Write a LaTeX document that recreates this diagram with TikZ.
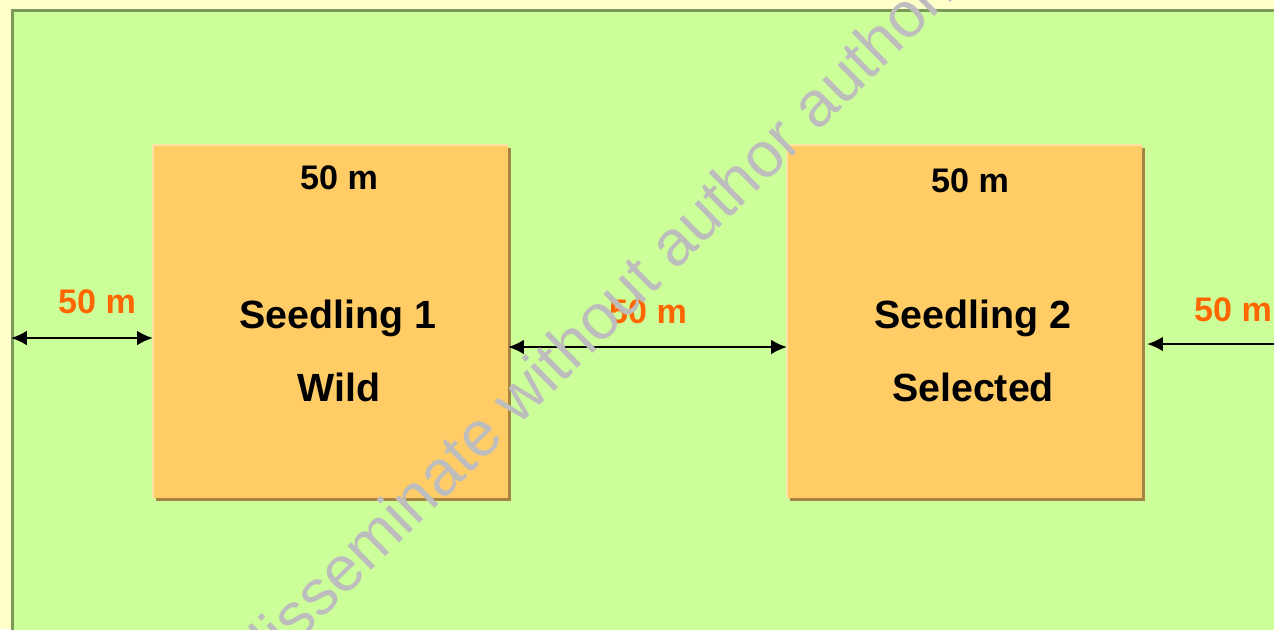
\documentclass[tikz,border=0pt]{standalone}
\usepackage{fontspec}
\setmainfont{Liberation Sans}
\usepackage{tikz}
\usetikzlibrary{arrows.meta,positioning,shadows}
\definecolor{paleyellow}{HTML}{FFFFCC}
\definecolor{fieldgreen}{HTML}{CCFF99}
\definecolor{fieldedge}{HTML}{7A9A5A}
\definecolor{plotorange}{HTML}{FFCC66}
\definecolor{plotedge}{HTML}{FFE3A6}
\definecolor{plotshadow}{HTML}{A68444}
\definecolor{dimorange}{HTML}{FF6600}
\definecolor{wmgray}{HTML}{BDBDBD}

\begin{document}
\begin{tikzpicture}[x=0.01cm,y=-0.01cm,
  plot/.style={fill=plotorange,minimum width=3.55cm,minimum height=3.53cm,inner sep=0pt,outer sep=0pt,
    drop shadow={shadow xshift=0.03cm,shadow yshift=-0.03cm,fill=plotshadow,opacity=1}},
  plotname/.style={font=\fontsize{11.2}{13}\selectfont\bfseries,anchor=base},
  dimtxt/.style={font=\fontsize{9.7}{12}\selectfont\bfseries,anchor=base},
  dimarrow/.style={{Latex[length=4.5pt,width=4.2pt]}-{Latex[length=4.5pt,width=4.2pt]},line width=0.6pt},
  watermark/.style={rotate=44.5,anchor=base,text=wmgray,font=\fontsize{18.2}{20}\selectfont}]
        \useasboundingbox (0,0) rectangle (1274,629);
        \clip (0,0) rectangle (1274,629);
        \fill[paleyellow] (0,0) rectangle (1274,629);
        \filldraw[fill=fieldgreen,draw=fieldedge,line width=0.85pt] (12.5,10.5) rectangle (1300,660); % the field
        % the two plots
        \node[plot] (box1) at (330.5,321.5) {};
        \node[plot] (box2) at (964.5,321.5) {};
        \draw[plotedge,line width=0.6pt] (box1.south west) -- (box1.north west) -- (box1.north east);
        \draw[plotedge,line width=0.6pt] (box2.south west) -- (box2.north west) -- (box2.north east);
        \node[dimtxt] (top1) at (339,189) {50 m};
        \node[plotname] (name1) at (338,328) {Seedling 1};
        \node[plotname] (kind1) at (339,401) {Wild};
        \node[dimtxt] (top2) at (970,192) {50 m};
        \node[plotname] (name2) at (973,328) {Seedling 2};
        \node[plotname] (kind2) at (973,401) {Selected};
        % distances between the plots
        \node[dimtxt,text=dimorange] (gapL) at (97,313) {50 m};
        \node[dimtxt,text=dimorange] (gapM) at (648,323) {50 m};
        \node[dimtxt,text=dimorange] (gapR) at (1233,321) {50 m};
        \coordinate (edgeL) at (11,338);
        \coordinate (midline) at (0,347);
        \coordinate (edgeR) at (1290,344);
        \draw[dimarrow] (edgeL) -- (edgeL -| box1.west);
        \draw[dimarrow] (midline -| box1.east) -- (midline -| box2.west);
        \draw[dimarrow] ([xshift=0.05cm]edgeR -| box2.east) -- (edgeR);
        \node[watermark] (wm) at (597,349) {Do not disseminate without author authorization};
\end{tikzpicture}
\end{document}
